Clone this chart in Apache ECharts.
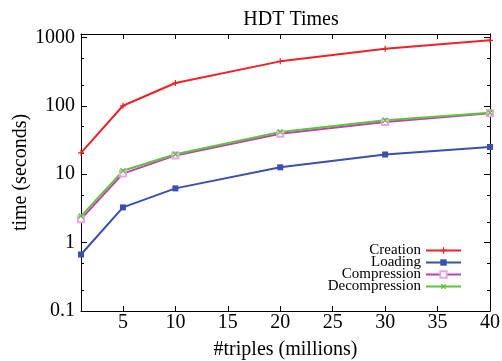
<!DOCTYPE html>
<html>
<head>
<meta charset="utf-8">
<script src="https://cdn.jsdelivr.net/npm/echarts@6/dist/echarts.min.js"></script>
<style>
  html, body { margin: 0; padding: 0; background: #fff; }
  #chart { width: 502px; height: 361px; }
</style>
</head>
<body>
<div id="chart"></div>
<script>
  // x values (millions of triples)
  const triples = [1, 5, 10, 20, 30, 40];
  const xTicks = [5, 10, 15, 20, 25, 30, 35, 40];
  const yMinorTicks = [0.2, 0.5, 2, 5, 20, 50, 200, 500];

  // times in seconds
  const creation = [20.5, 100, 215, 446, 684, 904];
  const loading = [0.67, 3.27, 6.2, 12.6, 19.4, 25];
  const compression = [2.2, 10.2, 18.8, 39, 58, 77.8];
  const decompression = [2.44, 11.2, 19.6, 41.5, 61.4, 79];

  const FONT = 'Liberation Serif';
  const Y_MIN = 0.1;
  const Y_MAX = 1120;

  const plus = 'path://M4,0H6V4H10V6H6V10H4V6H0V4H4Z';

  function pairs(vals) {
    return triples.map((x, i) => [x, vals[i]]);
  }

  function lineSeries(name, vals, color, symbol, size, extra) {
    return Object.assign({
      name: name,
      type: 'line',
      data: pairs(vals),
      symbol: symbol,
      symbolSize: size,
      color: color,
      lineStyle: { width: 2, color: color },
      itemStyle: { color: color },
      animation: false,
      z: 3
    }, extra || {});
  }

  const chart = echarts.init(document.getElementById('chart'));

  const xBase = {
    type: 'value',
    min: 1,
    max: 40,
    splitLine: { show: false },
    axisLine: { show: true, onZero: false, lineStyle: { color: '#000', width: 1 } },
    axisTick: { show: true, inside: true, length: 5, customValues: xTicks, lineStyle: { color: '#000' } }
  };

  const yBase = {
    type: 'log',
    logBase: 10,
    min: Y_MIN,
    max: Y_MAX,
    splitLine: { show: false },
    axisLine: { show: true, onZero: false, lineStyle: { color: '#000', width: 1 } },
    axisTick: { show: true, inside: true, length: 6, lineStyle: { color: '#000' } }
  };

  // minor ticks of the log axis, placed on a plain axis over the same span
  const minorBase = {
    type: 'value',
    min: Math.log10(Y_MIN),
    max: Math.log10(Y_MAX),
    splitLine: { show: false },
    axisLine: { show: false },
    axisLabel: { show: false },
    axisTick: {
      show: true, inside: true, length: 3,
      customValues: yMinorTicks.map(v => Math.log10(v)),
      lineStyle: { color: '#000' }
    }
  };

  const option = {
    backgroundColor: '#fff',
    textStyle: { fontFamily: FONT },
    title: {
      text: 'HDT Times',
      left: 286,
      top: 5,
      textAlign: 'center',
      textStyle: { fontFamily: FONT, fontSize: 20, fontWeight: 'normal', color: '#000' }
    },
    legend: {
      orient: 'vertical',
      align: 'right',
      right: 35,
      top: 238,
      itemWidth: 35,
      itemHeight: 8,
      itemGap: -3,
      selectedMode: false,
      data: ['Creation', 'Loading', 'Compression', 'Decompression'],
      textStyle: { fontFamily: FONT, fontSize: 15, color: '#000' }
    },
    grid: { left: 81, right: 12, top: 34, bottom: 50, outerBoundsMode: 'none', containLabel: false },
    xAxis: [
      Object.assign({}, xBase, {
        position: 'bottom',
        name: '#triples (millions)',
        nameLocation: 'middle',
        nameGap: 29,
        nameMoveOverlap: false,
        nameTextStyle: { fontFamily: FONT, fontSize: 20, color: '#000' },
        axisLabel: {
          customValues: xTicks, margin: 2,
          fontFamily: FONT, fontSize: 20, color: '#000'
        }
      }),
      Object.assign({}, xBase, {
        position: 'top',
        axisLabel: { show: false }
      })
    ],
    yAxis: [
      Object.assign({}, yBase, {
        position: 'left',
        name: 'time (seconds)',
        nameLocation: 'middle',
        nameGap: 50,
        nameMoveOverlap: false,
        nameTextStyle: { fontFamily: FONT, fontSize: 20, color: '#000' },
        axisLabel: {
          margin: 6, showMaxLabel: false,
          fontFamily: FONT, fontSize: 20, color: '#000',
          formatter: v => String(+v.toPrecision(6))
        }
      }),
      Object.assign({}, yBase, {
        position: 'right',
        axisLabel: { show: false }
      }),
      Object.assign({}, minorBase, { position: 'left' }),
      Object.assign({}, minorBase, { position: 'right' })
    ],
    series: [
      lineSeries('Creation', creation, '#ee2227', plus, 6),
      lineSeries('Loading', loading, '#3a4fae', 'rect', 6),
      lineSeries('Compression', compression, '#c03fb6', 'emptyRect', 6, {
        itemStyle: { color: '#e9a6e4', borderColor: '#c03fb6', borderWidth: 1.5 }
      }),
      lineSeries('Decompression', decompression, '#5ec43c', plus, 7, { symbolRotate: 45 })
    ]
  };

  chart.setOption(option);
</script>
</body>
</html>
